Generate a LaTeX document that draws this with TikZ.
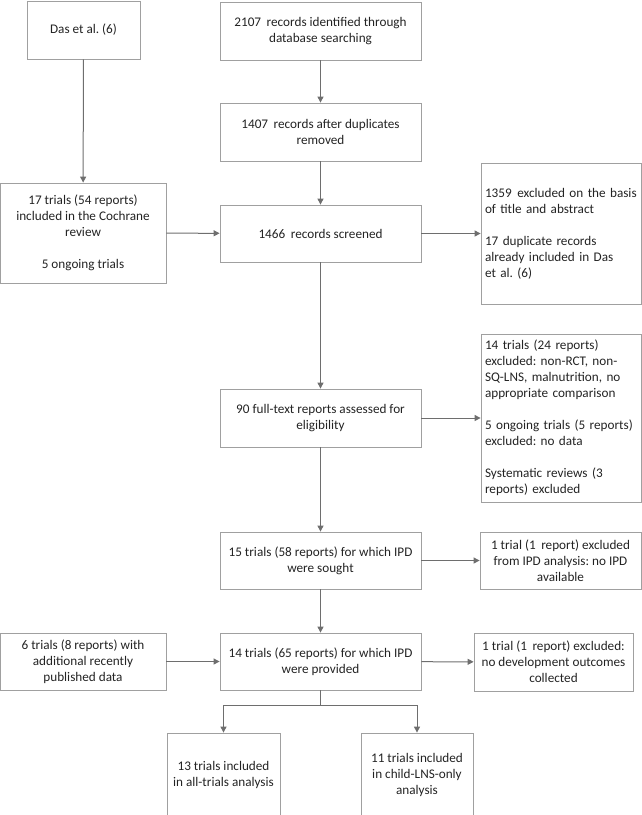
\documentclass[tikz,border=0pt]{standalone}
\usepackage{fontspec}
\setmainfont{Carlito}
\usetikzlibrary{arrows.meta}
\definecolor{boxgray}{RGB}{160,160,160}
\definecolor{linegray}{RGB}{110,110,110}
\definecolor{txtgray}{RGB}{35,35,35}
\newcommand{\wsp}{\hspace{0.42em}}
\frenchspacing
\begin{document}
\begin{tikzpicture}[x=1pt,y=-1pt,
  font=\fontsize{13.2}{16}\selectfont\frenchspacing, text=txtgray,
  box/.style={draw=boxgray,line width=0.8pt,inner sep=0pt,align=center},
  sidebox/.style={draw=boxgray,line width=0.8pt,inner xsep=4pt,inner ysep=0pt,align=left,text width=152pt},
  arr/.style={draw=linegray,line width=1pt,-{Triangle[length=6pt,width=6pt]}}]
\useasboundingbox (0,0) rectangle (642,815);
% left column
\node[box,minimum width=113,minimum height=58] (das) at (83.5,30) {Das et al. (6)};
\node[box,minimum width=166,minimum height=100] (cochrane) at (83,233) {17 trials (54 reports)\\included in the Cochrane\\review\\[16pt]5 ongoing trials};
\node[box,minimum width=166,minimum height=57] (extra) at (83,661.5) {6 trials (8 reports) with\\additional recently\\published data};
% main column
\node[box,minimum width=201,minimum height=58] (search) at (320.5,31) {2107\wsp records identified through\\database searching};
\node[box,minimum width=201,minimum height=58] (dedup) at (320.5,132) {1407\wsp records after duplicates\\removed};
\node[box,minimum width=201,minimum height=57] (screened) at (320.5,233.5) {1466\wsp records screened};
\node[box,minimum width=201,minimum height=58] (fulltext) at (320.5,418) {90 full-text reports assessed for\\eligibility};
\node[box,minimum width=201,minimum height=57] (sought) at (320.5,560.5) {15 trials (58 reports) for which IPD\\were sought};
\node[box,minimum width=201,minimum height=57] (provided) at (320.5,661.5) {14 trials (65 reports) for which IPD\\were provided};
\node[box,minimum width=113,minimum height=83] (alltrials) at (223.5,774.5) {13 trials included\\in all-trials analysis};
\node[box,minimum width=112,minimum height=83] (childonly) at (417,774.5) {11 trials included\\in child-LNS-only\\analysis};
% right column
\node[sidebox,minimum height=141] (exclA) at (561,233.5) {1359\wsp excluded on the basis\\of title and abstract\\[16pt]17 duplicate records\\already included in Das\\et al. (6)};
\node[sidebox,minimum height=168] (exclB) at (561,418) {14 trials (24 reports)\\excluded: non-RCT, non-\\SQ-LNS, malnutrition, no\\appropriate comparison\\[16pt]5 ongoing trials (5 reports)\\excluded: no data\\[16pt]Systematic reviews (3\\reports) excluded};
\node[box,minimum width=161,minimum height=57] (noipd) at (560.5,560.5) {1 trial (1\wsp report) excluded\\from IPD analysis: no IPD\\available};
\node[box,minimum width=159,minimum height=58] (nodev) at (553.5,662) {1 trial (1\wsp report) excluded:\\no development outcomes\\collected};
\coordinate (split) at (320.5,705);
% connectors
\draw[arr] (das) -- (cochrane);
\draw[arr] (search) -- (dedup);
\draw[arr] (dedup) -- (screened);
\draw[arr] (cochrane) -- (screened);
\draw[arr] (screened) -- (exclA);
\draw[arr] (screened) -- (fulltext);
\draw[arr] (fulltext) -- (exclB);
\draw[arr] (fulltext) -- (sought);
\draw[arr] (sought) -- (noipd);
\draw[arr] (sought) -- (provided);
\draw[arr] (extra) -- (provided);
\draw[arr] (provided) -- (nodev);
\draw[draw=linegray,line width=1pt] (provided) -- (split);
\draw[arr] (split) -| (alltrials);
\draw[arr] (split) -| (childonly);
\end{tikzpicture}
\end{document}
